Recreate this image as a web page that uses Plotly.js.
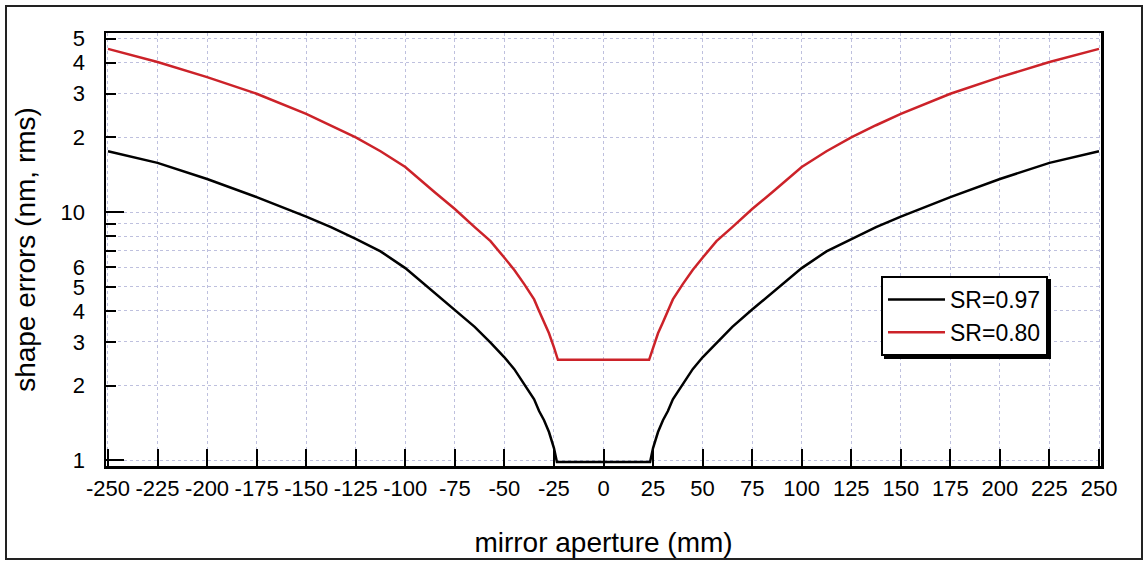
<!DOCTYPE html>
<html>
<head>
<meta charset="utf-8">
<script src="https://cdn.plot.ly/plotly-3.0.1.min.js"></script>
<style>
  html, body { margin: 0; padding: 0; background: #fff; }
  #chart { width: 1143px; height: 561px; }
</style>
</head>
<body>
<div id="chart"></div>
<script>
// ---- data ----
const apertureBlack = [-250,-225,-200,-175,-150,-137.5,-125,-112.5,-100,-85,-75,-65,-57,-50,-45,-40,-35,-32.5,-30,-27.5,-25,-23.5,
                       23.5,25,27.5,30,32.5,35,40,45,50,57,65,75,85,100,112.5,125,137.5,150,175,200,225,250];
const sr097 = [17.6,15.8,13.6,11.5,9.6,8.7,7.8,6.95,5.95,4.72,4.05,3.45,2.98,2.6,2.33,2.03,1.76,1.58,1.45,1.3,1.12,0.985,
               0.985,1.12,1.3,1.45,1.58,1.76,2.03,2.33,2.6,2.98,3.45,4.05,4.72,5.95,6.95,7.8,8.7,9.6,11.5,13.6,15.8,17.6];
const apertureRed = [-250,-225,-200,-175,-150,-137.5,-125,-112.5,-100,-85,-75,-65,-57,-50,-45,-40,-35,-32.5,-30,-27.5,-25,-23,
                     23,25,27.5,30,32.5,35,40,45,50,57,65,75,85,100,112.5,125,137.5,150,175,200,225,250];
const sr080 = [45.5,40.3,35,30,24.9,22.4,20,17.6,15.2,12.0,10.3,8.7,7.64,6.55,5.85,5.13,4.45,4.0,3.6,3.25,2.85,2.54,
               2.54,2.85,3.25,3.6,4.0,4.45,5.13,5.85,6.55,7.64,8.7,10.3,12.0,15.2,17.6,20,22.4,24.9,30,35,40.3,45.5];
const seriesNames = ['SR=0.97', 'SR=0.80'];
const xTicks = [-250,-225,-200,-175,-150,-125,-100,-75,-50,-25,0,25,50,75,100,125,150,175,200,225,250];
const xTickText = ['-250','-225','-200','-175','-150','-125','-100','-75','-50','-25','0','25','50','75','100','125','150','175','200','225','250'];
const yTicks = [1,2,3,4,5,6,7,8,9,10,20,30,40,50];
const yTickText = ['1','2','3','4','5','6','','','','10','2','3','4','5'];
const yMajor = [1,10];

const FONT = 'Arial, "Liberation Sans", Helvetica, sans-serif';
const gridCol = 'rgb(190,192,222)';

const traces = [
  {x: apertureBlack, y: sr097, name: seriesNames[0], type: 'scatter', mode: 'lines',
   line: {color: '#000000', width: 2.5}},
  {x: apertureRed, y: sr080, name: seriesNames[1], type: 'scatter', mode: 'lines',
   line: {color: '#cc2229', width: 2.5}},
  // helper trace carrying the long major ticks at 1 and 10 (invisible)
  {x: [0], y: [1], yaxis: 'y2', type: 'scatter', mode: 'lines', showlegend: false,
   hoverinfo: 'skip', line: {width: 0}, opacity: 0}
];

const frameShape = {type: 'rect', xref: 'paper', yref: 'paper', x0: -0.1005, x1: 1.0412, y0: -0.2148, y1: 1.0624,
                    line: {color: '#222', width: 2}, fillcolor: 'rgba(0,0,0,0)', layer: 'below'};

const layout = {
  width: 1143, height: 561,
  margin: {l: 106, r: 42, t: 33, b: 95, pad: 0},
  paper_bgcolor: '#ffffff', plot_bgcolor: '#ffffff',
  font: {family: FONT, color: '#000', size: 22},
  showlegend: true,
  legend: {
    x: 0.7789, y: 0.4388, xanchor: 'left', yanchor: 'top',
    bgcolor: '#ffffff', bordercolor: '#000', borderwidth: 2,
    font: {family: FONT, size: 23, color: '#000'},
    itemwidth: 57,
    tracegroupgap: 0
  },
  xaxis: {
    range: [-251, 251], tickmode: 'array', tickvals: xTicks, ticktext: xTickText, tickangle: 0,
    ticks: 'inside', ticklen: 17, tickwidth: 2, tickcolor: '#000',
    showline: true, linecolor: '#000', linewidth: 2.5, mirror: true,
    showgrid: true, gridcolor: gridCol, griddash: 'dot', gridwidth: 1,
    zeroline: false,
    tickfont: {family: FONT, size: 22, color: '#000'},
    ticklabelstandoff: 1,
    title: {text: 'mirror aperture (mm)', font: {family: FONT, size: 28, color: '#000'}, standoff: 33}
  },
  yaxis: {
    type: 'log', range: [-0.023, 1.722], tickmode: 'array', tickvals: yTicks, ticktext: yTickText,
    ticks: 'inside', ticklen: 10, tickwidth: 2, tickcolor: '#000',
    showline: true, linecolor: '#000', linewidth: 2.5, mirror: true,
    showgrid: true, gridcolor: gridCol, griddash: 'dot', gridwidth: 1,
    zeroline: false,
    tickfont: {family: FONT, size: 22, color: '#000'},
    ticklabelstandoff: 14,
    title: {text: 'shape errors (nm, rms)', font: {family: FONT, size: 28, color: '#000'}, standoff: 17}
  },
  yaxis2: {
    type: 'log', range: [-0.023, 1.722], overlaying: 'y', side: 'left', anchor: 'x',
    tickmode: 'array', tickvals: yMajor, showticklabels: false,
    ticks: 'inside', ticklen: 18, tickwidth: 2, tickcolor: '#000',
    showline: false, showgrid: false, zeroline: false
  },
  shapes: [frameShape]
};

const gd = document.getElementById('chart');
Plotly.newPlot(gd, traces, layout, {displayModeBar: false, staticPlot: true}).then(function () {
  // drop shadow behind the legend box, sized from the drawn legend
  const fl = gd._fullLayout;
  const lg = fl.legend;
  const w = lg._width || 0, h = lg._height || 0;
  if (!w || !h) return;
  const pw = fl._size.w, ph = fl._size.h;
  const off = 3;
  const x0 = lg.x + off / pw, x1 = lg.x + (w + off) / pw;
  const y1 = lg.y - off / ph, y0 = lg.y - (h + off) / ph;
  const shadow = {type: 'rect', xref: 'paper', yref: 'paper', x0: x0, x1: x1, y0: y0, y1: y1,
                  line: {width: 0}, fillcolor: '#000', layer: 'above'};
  return Plotly.relayout(gd, {shapes: [frameShape, shadow]});
});
</script>
</body>
</html>
